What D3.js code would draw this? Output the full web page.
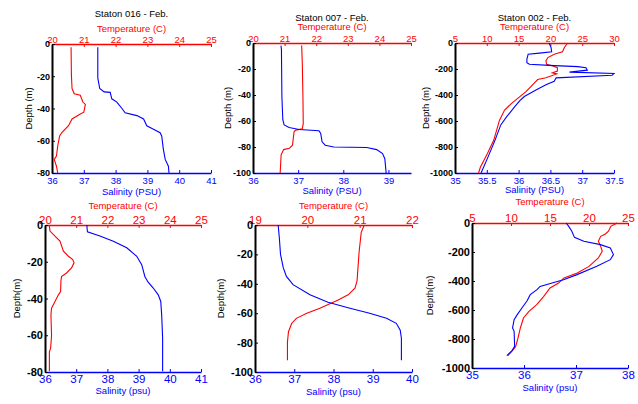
<!DOCTYPE html>
<html>
<head>
<meta charset="utf-8">
<script src="https://cdn.jsdelivr.net/npm/d3@7"></script>
<style>
  body { margin: 0; background: #fff; }
  svg { font-family: "Liberation Sans", Arial, sans-serif; }
</style>
</head>
<body>
<svg id="chart" width="638" height="404"></svg>
<script>
// profiles as [value, depth]
var temp016 = [[20.60,-2],[20.61,-19],[20.63,-27.6],[20.70,-30.8],[20.89,-31.8],[20.97,-36],[21.05,-37.5],[21.0,-42.3],[20.89,-43.4],[20.63,-46.5],[20.52,-50.7],[20.31,-54.9],[20.24,-57],[20.18,-63.2],[20.14,-69.5],[20.07,-71.6],[20.14,-75.8],[20.18,-80]];
var sal016 = [[37.44,-2],[37.44,-21],[37.50,-27.6],[37.64,-29.7],[37.83,-30],[37.88,-34],[38.04,-36],[38.2,-40],[38.3,-42.7],[38.67,-44.4],[38.88,-46.5],[38.98,-50.7],[39.19,-52.8],[39.4,-55],[39.45,-57],[39.5,-65],[39.56,-71.6],[39.66,-75.8],[39.68,-80]];

var temp007 = [[21.54,-2],[21.56,-15.5],[21.58,-41],[21.59,-62],[21.56,-66],[21.35,-67],[21.30,-68.3],[21.25,-78.6],[21.15,-81],[20.97,-82],[20.89,-86],[20.86,-100]];
var sal007 = [[36.62,-2],[36.63,-5],[36.64,-41],[36.66,-59],[36.69,-63],[36.80,-65],[37.02,-66.5],[37.46,-67.5],[37.5,-69.6],[37.53,-76],[37.6,-78.6],[37.79,-80],[38.52,-80.4],[38.74,-82],[38.87,-85],[38.92,-89],[38.95,-100]];

var temp002 = [[22.7,0],[22.2,-34],[21.9,-68],[20.6,-86],[19.6,-112],[19.3,-138],[19.4,-164],[20.4,-177],[21.1,-190],[21.1,-216],[20.3,-230],[21.0,-238],[19.3,-268],[18.0,-281],[17.5,-307],[16.2,-372],[15.2,-412],[13.9,-464],[12.8,-516],[12.0,-594],[11.1,-747],[10.1,-850],[9.0,-954],[8.7,-1000]];
var sal002 = [[36.48,0],[36.51,-34],[36.52,-68],[36.33,-78],[36.15,-86],[36.13,-125],[36.13,-151],[36.17,-164],[36.48,-172],[36.93,-182],[37.06,-190],[37.08,-209],[36.80,-224],[37.5,-235],[37.47,-248],[36.59,-268],[36.56,-295],[36.43,-321],[36.28,-360],[36.09,-412],[36.02,-443],[35.94,-490],[35.81,-568],[35.72,-630],[35.63,-747],[35.52,-876],[35.41,-1000]];

var tempB1 = [[20.14,-0.5],[20.16,-3.3],[20.32,-6],[20.48,-8.8],[20.59,-14.2],[20.75,-17],[20.89,-18.8],[20.93,-20.6],[20.85,-23.4],[20.69,-26.1],[20.53,-28],[20.51,-30.7],[20.50,-36.2],[20.43,-38],[20.32,-41.6],[20.21,-45.3],[20.19,-49],[20.21,-60],[20.18,-67.2],[20.14,-69],[20.14,-79.6]];
var salB1 = [[37.34,0],[37.36,-3.7],[37.76,-6],[38.19,-8.8],[38.62,-12.4],[38.94,-17],[39.1,-21.6],[39.2,-28],[39.3,-31],[39.47,-34.3],[39.63,-38],[39.71,-41.6],[39.74,-49],[39.77,-61.7],[39.77,-79.6]];

var tempB2 = [[21.08,-0.7],[21.03,-5],[20.99,-18],[20.95,-38],[20.91,-43],[20.78,-47.5],[20.59,-51],[20.24,-56.6],[19.99,-60],[19.79,-63.5],[19.70,-67],[19.64,-72.6],[19.62,-79.5],[19.62,-92]];
var salB2 = [[36.59,0],[36.62,-8.7],[36.65,-20],[36.72,-29],[36.8,-35],[36.97,-40.6],[37.40,-47.5],[37.86,-52.5],[38.42,-56.6],[38.92,-60],[39.35,-63.5],[39.60,-66.9],[39.70,-71.5],[39.73,-77],[39.73,-92]];

var tempB3 = [[23.6,0],[22.8,-23],[22.5,-57],[22.1,-76],[21.5,-92],[21.2,-126],[21.5,-161],[21.7,-195],[21.2,-241],[20.0,-299],[18.5,-345],[16.8,-379],[16.1,-414],[15.0,-448],[14.2,-506],[13.3,-563],[12.3,-609],[11.6,-655],[11.2,-724],[10.9,-793],[10.6,-851],[10.1,-885],[9.6,-915]];
var salB3 = [[36.81,0],[36.86,-23],[36.92,-57],[36.97,-99],[37.15,-126],[37.47,-149],[37.66,-172],[37.72,-218],[37.66,-253],[37.40,-299],[37.02,-356],[36.76,-391],[36.54,-414],[36.31,-437],[36.25,-460],[36.12,-494],[36.06,-536],[35.96,-586],[35.87,-632],[35.81,-667],[35.78,-724],[35.81,-747],[35.82,-851],[35.77,-880],[35.67,-915]];

var tempTicksA = [20,21,22,23,24,25];
var tempTicks19 = [19,20,21,22];
var tempTicks5 = [5,10,15,20,25,30];
var tempTicks525 = [5,10,15,20,25];
var salTicks36 = [36,37,38,39,40,41];
var salTicks39 = [36,37,38,39];
var salTicks40 = [36,37,38,39,40];
var salTicks35 = [35,35.5,36,36.5,37,37.5];
var salTicks38 = [35,36,37,38];
var depthTicks80 = [0,-20,-40,-60,-80];
var depthTicks100 = [0,-20,-40,-60,-80,-100];
var depthTicks1000 = [0,-200,-400,-600,-800,-1000];

var panels = [
  {x0:52, x1:211, y0:44, y1:173, title:"Staton 016 - Feb.", titleY:16.5, tLabY:31.5, sLabY:195, dLabX:31.5, dLab:"Depth (m)", sLab:"Salinity (PSU)",
   tDom:[20,25], sDom:[36,41], dDom:[-80,0], tTicks:tempTicksA, sTicks:salTicks36, dTicks:depthTicks80, temp:temp016, sal:sal016, fs:9.5, dfs:9, bpad:4},
  {x0:253, x1:411, y0:43, y1:173, title:"Staton 007 - Feb.", titleY:21, tLabY:30, sLabY:193.5, dLabX:231, dLab:"Depth (m)", sLab:"Salinity (PSU)",
   tDom:[20,25], sDom:[36,39.5], dDom:[-100,0], tTicks:tempTicksA, sTicks:salTicks39, dTicks:depthTicks100, temp:temp007, sal:sal007, fs:9.5, dfs:9, bpad:4},
  {x0:455, x1:614, y0:43, y1:173, title:"Staton 002 - Feb.", titleY:21, tLabY:29.5, sLabY:193, dLabX:429, dLab:"Depth (m)", sLab:"Salinity (PSU)",
   tDom:[5,30], sDom:[35,37.5], dDom:[-1000,0], tTicks:tempTicks5, sTicks:salTicks35, dTicks:depthTicks1000, temp:temp002, sal:sal002, fs:9.5, dfs:9, bpad:4},
  {x0:45, x1:201, y0:225, y1:372, title:null, tLabY:208.5, sLabY:394, dLabX:20, dLab:"Depth(m)", sLab:"Salinity (psu)",
   tDom:[20,25], sDom:[36,41], dDom:[-80,0], tTicks:tempTicksA, sTicks:salTicks36, dTicks:depthTicks80, temp:tempB1, sal:salB1, fs:11.5, dfs:11, bpad:3},
  {x0:255, x1:412, y0:225, y1:372, title:null, tLabY:208.5, sLabY:394.5, dLabX:223.5, dLab:"Depth(m)", sLab:"Salinity (psu)",
   tDom:[19,22], sDom:[36,40], dDom:[-100,0], tTicks:tempTicks19, sTicks:salTicks40, dTicks:depthTicks100, temp:tempB2, sal:salB2, fs:11.5, dfs:11, bpad:3},
  {x0:472, x1:628, y0:223, y1:368, title:null, tLabY:205, sLabY:391, dLabX:433, dLab:"Depth(m)", sLab:"Salinity (psu)",
   tDom:[5,25], sDom:[35,38], dDom:[-1000,0], tTicks:tempTicks525, sTicks:salTicks38, dTicks:depthTicks1000, temp:tempB3, sal:salB3, fs:11.5, dfs:11, bpad:3}
];

var RED = "#ff0000", BLUE = "#0000ff";
var FONT = "Liberation Sans, Arial, sans-serif";
var plain = function(d){ return String(d); };
var svg = d3.select("#chart");

panels.forEach(function(p){
  var g = svg.append("g");
  var xt = d3.scaleLinear().domain(p.tDom).range([p.x0, p.x1]);
  var xs = d3.scaleLinear().domain(p.sDom).range([p.x0, p.x1]);
  var y = d3.scaleLinear().domain(p.dDom).range([p.y1, p.y0]);

  // bottom salinity axis
  var bx = g.append("g").attr("transform", "translate(0," + p.y1 + ")")
    .call(d3.axisBottom(xs).tickValues(p.sTicks).tickSize(-3).tickSizeOuter(0).tickPadding(p.bpad).tickFormat(plain));
  bx.select(".domain").attr("stroke", BLUE).attr("stroke-width", 1.5);
  bx.selectAll(".tick line").attr("stroke", BLUE);
  bx.selectAll(".tick text").attr("fill", BLUE).attr("font-size", p.fs).attr("font-family", FONT);

  // top temperature axis
  var tx = g.append("g").attr("transform", "translate(0," + p.y0 + ")")
    .call(d3.axisTop(xt).tickValues(p.tTicks).tickSize(-3).tickSizeOuter(0).tickPadding(1).tickFormat(plain));
  tx.select(".domain").attr("stroke", RED).attr("stroke-width", 1.5);
  tx.selectAll(".tick line").attr("stroke", RED);
  tx.selectAll(".tick text").attr("fill", RED).attr("font-size", p.fs).attr("font-family", FONT);

  // profiles
  var lineT = d3.line().x(function(d){ return xt(d[0]); }).y(function(d){ return y(d[1]); });
  var lineS = d3.line().x(function(d){ return xs(d[0]); }).y(function(d){ return y(d[1]); });
  g.append("path").attr("d", lineT(p.temp)).attr("fill", "none").attr("stroke", RED).attr("stroke-width", 1.1);
  g.append("path").attr("d", lineS(p.sal)).attr("fill", "none").attr("stroke", BLUE).attr("stroke-width", 1.1);

  // left depth axis
  var ly = g.append("g").attr("transform", "translate(" + p.x0 + ",0)")
    .call(d3.axisLeft(y).tickValues(p.dTicks).tickSize(-3).tickSizeOuter(0).tickPadding(2).tickFormat(plain));
  ly.select(".domain").attr("stroke", "#000").attr("stroke-width", 2);
  ly.selectAll(".tick line").attr("stroke", "#000");
  ly.selectAll(".tick text").attr("fill", "#000").attr("font-size", p.dfs).attr("font-weight", "bold")
    .attr("font-family", FONT);

  var cx = (p.x0 + p.x1) / 2;
  if (p.title) {
    g.append("text").attr("x", cx).attr("y", p.titleY).attr("text-anchor", "middle")
      .attr("font-size", 9.5).attr("fill", "#000").text(p.title);
  }
  g.append("text").attr("x", cx).attr("y", p.tLabY).attr("text-anchor", "middle")
    .attr("font-size", 9.5).attr("fill", RED).text("Temperature (C)");
  g.append("text").attr("x", cx).attr("y", p.sLabY).attr("text-anchor", "middle")
    .attr("font-size", 9.5).attr("fill", BLUE).text(p.sLab);
  g.append("text").attr("transform", "translate(" + p.dLabX + "," + ((p.y0 + p.y1) / 2) + ") rotate(-90)")
    .attr("text-anchor", "middle").attr("font-size", 9.5).attr("fill", "#000").text(p.dLab);
});
</script>
</body>
</html>
